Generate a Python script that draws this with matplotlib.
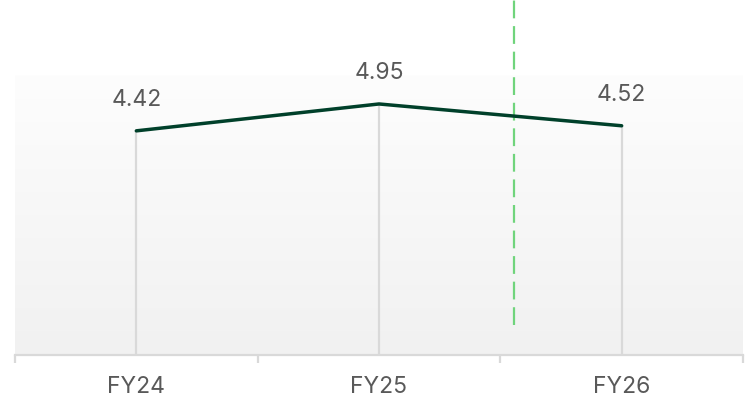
import numpy as np
import matplotlib
matplotlib.use("Agg")
import matplotlib.pyplot as plt
from matplotlib.colors import LinearSegmentedColormap

plt.rcParams["font.family"] = ["Inter", "DejaVu Sans"]

categories = ["FY24", "FY25", "FY26"]
values = [4.42, 4.95, 4.52]
marker_x = 1.556  # dashed reference line between FY25 and FY26
band_top = 5.52

fig = plt.figure(figsize=(7.45, 4.08), dpi=100)
ax = fig.add_axes([15 / 745, 53 / 408, 728 / 745, 355 / 408])
ax.set_xlim(-0.5, 2.5)
ax.set_ylim(0, 7)
ax.patch.set_alpha(0)

# vertical gradient background
grad = np.linspace(0, 1, 256).reshape(-1, 1)
cmap = LinearSegmentedColormap.from_list("bg", ["#f1f1f1", "#fdfdfd"])
ax.imshow(grad, cmap=cmap, origin="lower", aspect="auto",
          extent=[-0.5, 2.5, 0, band_top], zorder=0)

x = np.arange(len(categories))
ax.vlines(x, 0, values, color="#d9d9d9", lw=1.6, zorder=1)
ax.plot(x, values, color="#00402a", lw=2.5, solid_capstyle="round", zorder=3)
ax.axvline(marker_x, ymin=0.6 / 7, ymax=1, color="#70d47c", lw=1.6,
           dashes=(8, 3.5), zorder=2)

for xi, v in zip(x, values):
    ax.annotate(f"{v:.2f}", (xi, v), xytext=(0, 18), textcoords="offset points",
                ha="center", va="baseline", fontsize=16.5, color="#595959")

for s in ["top", "right", "left"]:
    ax.spines[s].set_visible(False)
ax.spines["bottom"].set_color("#d9d9d9")
ax.spines["bottom"].set_linewidth(1.6)

ax.set_yticks([])
ax.set_xticks(x)
ax.set_xticklabels(categories, fontsize=16.5, color="#595959")
ax.tick_params(axis="x", which="major", length=0, pad=15)
ax.set_xticks([-0.5, 0.5, 1.5, 2.5], minor=True)
ax.tick_params(axis="x", which="minor", length=6, width=1.6, color="#d9d9d9")

fig.savefig("out.png", dpi=100)
